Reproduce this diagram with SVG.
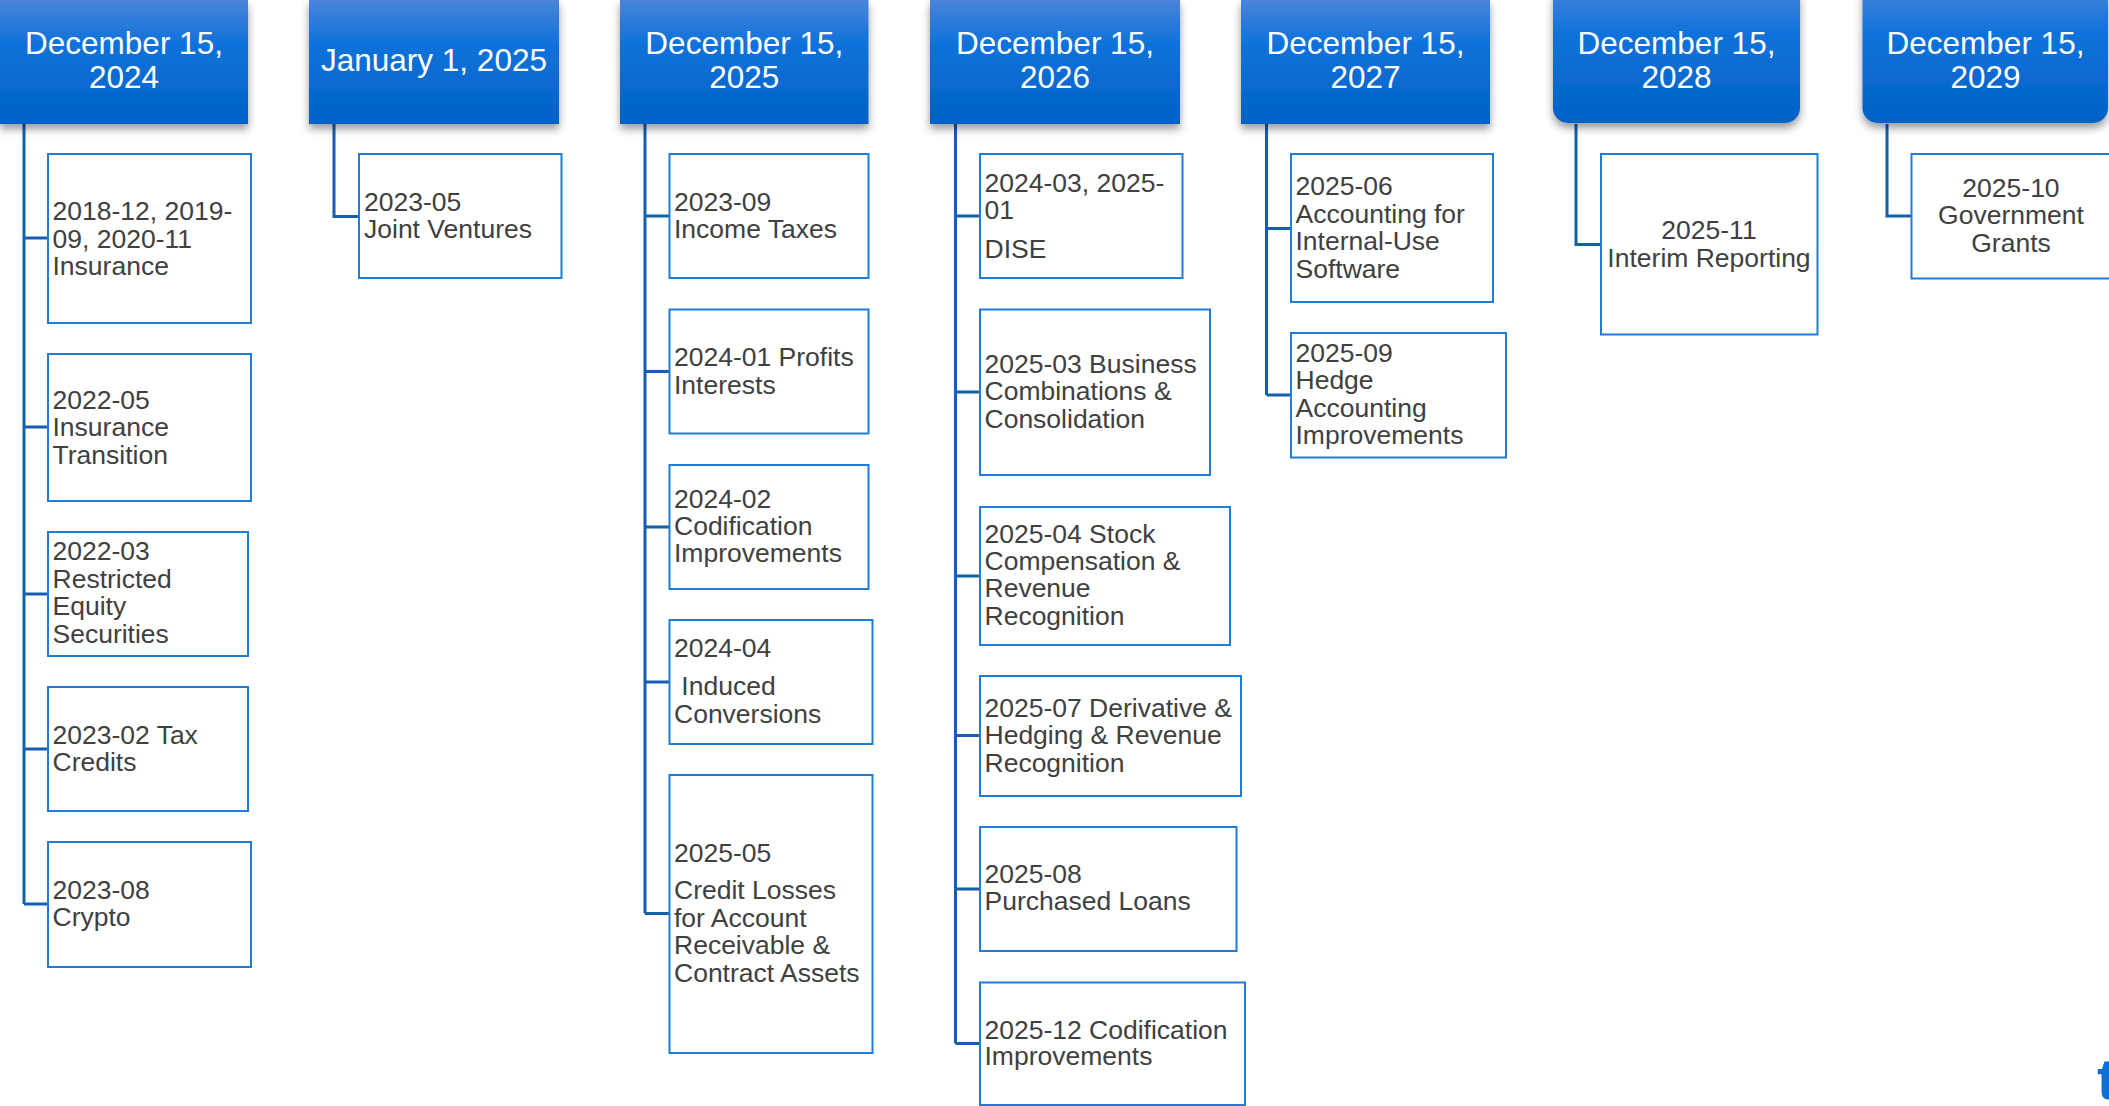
<svg xmlns="http://www.w3.org/2000/svg" width="2109" height="1106" viewBox="0 0 2109 1106">
<defs>
<linearGradient id="hg" x1="0" y1="0" x2="0" y2="1">
<stop offset="0" stop-color="#4a84da"/>
<stop offset="0.35" stop-color="#0f72da"/>
<stop offset="1" stop-color="#0062c6"/>
</linearGradient>
<filter id="sh" x="-10%" y="-10%" width="120%" height="140%">
<feDropShadow dx="0" dy="5" stdDeviation="4" flood-color="#000" flood-opacity="0.4"/>
</filter>
<style>
.hdr{fill:url(#hg);filter:url(#sh)}
.ht{font-family:"Liberation Sans",Arial,sans-serif;font-size:31.5px;fill:#fff;text-anchor:middle}
.box{fill:#fff;stroke:#1f7dd8;stroke-width:2}
.bt{font-family:"Liberation Sans",Arial,sans-serif;font-size:26.5px;fill:#404040}
.c{text-anchor:middle}
.con{fill:none;stroke:#155fae;stroke-width:3}
</style>
</defs>
<rect width="2109" height="1106" fill="#fff"/>

<g id="connectors">
<path class="con" d="M24 124V904M24 238H48M24 427H48M24 594H48M24 749H48M24 904H48"/>
<path class="con" d="M334 124V216.5H359"/>
<path class="con" d="M645 124V913.5M645 216H669.5M645 371.5H669.5M645 527H669.5M645 682H669.5M645 913.5H669.5"/>
<path class="con" d="M955.5 124V1043.5M955.5 216H980M955.5 392H980M955.5 576H980M955.5 735.5H980M955.5 889H980M955.5 1043.5H980"/>
<path class="con" d="M1266.5 124V395M1266.5 228.5H1291M1266.5 395H1291"/>
<path class="con" d="M1576 124V244.5H1601"/>
<path class="con" d="M1887 124V216H1911.5"/>
</g>

<g id="h1"><rect class="hdr" x="0" y="0" width="248" height="124"/><text class="ht" x="124" y="53.5">December 15,</text><text class="ht" x="124" y="87.5">2024</text></g>
<g id="h2"><rect class="hdr" x="309" y="0" width="250" height="124"/><text class="ht" x="434" y="71">January 1, 2025</text></g>
<g id="h3"><rect class="hdr" x="620" y="0" width="248.5" height="124"/><text class="ht" x="744.3" y="53.5">December 15,</text><text class="ht" x="744.3" y="87.5">2025</text></g>
<g id="h4"><rect class="hdr" x="930" y="0" width="250" height="124"/><text class="ht" x="1055" y="53.5">December 15,</text><text class="ht" x="1055" y="87.5">2026</text></g>
<g id="h5"><rect class="hdr" x="1241" y="0" width="249" height="124"/><text class="ht" x="1365.5" y="53.5">December 15,</text><text class="ht" x="1365.5" y="87.5">2027</text></g>
<g id="h6"><rect class="hdr" x="1553" y="-15" width="247" height="138" rx="15"/><text class="ht" x="1676.5" y="53.5">December 15,</text><text class="ht" x="1676.5" y="87.5">2028</text></g>
<g id="h7"><rect class="hdr" x="1862.5" y="-15" width="245.5" height="138" rx="15"/><text class="ht" x="1985.5" y="53.5">December 15,</text><text class="ht" x="1985.5" y="87.5">2029</text></g>

<g id="n1"><rect class="box" x="48" y="154" width="203" height="169"/><text class="bt" x="52.5" y="220">2018-12, 2019-</text><text class="bt" x="52.5" y="247.5">09, 2020-11</text><text class="bt" x="52.5" y="275">Insurance</text></g>
<g id="n2"><rect class="box" x="48" y="354" width="203" height="147"/><text class="bt" x="52.5" y="408.5">2022-05</text><text class="bt" x="52.5" y="436">Insurance</text><text class="bt" x="52.5" y="463.5">Transition</text></g>
<g id="n3"><rect class="box" x="48" y="532" width="200" height="124"/><text class="bt" x="52.5" y="560">2022-03</text><text class="bt" x="52.5" y="587.5">Restricted</text><text class="bt" x="52.5" y="615">Equity</text><text class="bt" x="52.5" y="642.5">Securities</text></g>
<g id="n4"><rect class="box" x="48" y="687" width="200" height="124"/><text class="bt" x="52.5" y="743.5">2023-02 Tax</text><text class="bt" x="52.5" y="771">Credits</text></g>
<g id="n5"><rect class="box" x="48" y="842" width="203" height="125"/><text class="bt" x="52.5" y="898.5">2023-08</text><text class="bt" x="52.5" y="926">Crypto</text></g>

<g id="n6"><rect class="box" x="359" y="154" width="202.5" height="124"/><text class="bt" x="364" y="211">2023-05</text><text class="bt" x="364" y="238">Joint Ventures</text></g>

<g id="n7"><rect class="box" x="669.5" y="154" width="199" height="124"/><text class="bt" x="674" y="211">2023-09</text><text class="bt" x="674" y="237.5">Income Taxes</text></g>
<g id="n8"><rect class="box" x="669.5" y="309.5" width="199" height="124"/><text class="bt" x="674" y="366">2024-01 Profits</text><text class="bt" x="674" y="393.5">Interests</text></g>
<g id="n9"><rect class="box" x="669.5" y="465" width="199" height="124"/><text class="bt" x="674" y="507.5">2024-02</text><text class="bt" x="674" y="535">Codification</text><text class="bt" x="674" y="562">Improvements</text></g>
<g id="n10"><rect class="box" x="669.5" y="620" width="203" height="124"/><text class="bt" x="674" y="657">2024-04</text><text class="bt" x="674" y="695" xml:space="preserve"> Induced</text><text class="bt" x="674" y="722.5">Conversions</text></g>
<g id="n11"><rect class="box" x="669.5" y="775" width="203" height="278"/><text class="bt" x="674" y="862">2025-05</text><text class="bt" x="674" y="899">Credit Losses</text><text class="bt" x="674" y="926.5">for Account</text><text class="bt" x="674" y="954">Receivable &amp;</text><text class="bt" x="674" y="982">Contract Assets</text></g>

<g id="n12"><rect class="box" x="980" y="154" width="202.5" height="124"/><text class="bt" x="984.5" y="191.5">2024-03, 2025-</text><text class="bt" x="984.5" y="218.5">01</text><text class="bt" x="984.5" y="257.5">DISE</text></g>
<g id="n13"><rect class="box" x="980" y="309.5" width="230" height="165.5"/><text class="bt" x="984.5" y="372.5">2025-03 Business</text><text class="bt" x="984.5" y="400">Combinations &amp;</text><text class="bt" x="984.5" y="427.5">Consolidation</text></g>
<g id="n14"><rect class="box" x="980" y="507" width="250" height="138"/><text class="bt" x="984.5" y="542.5">2025-04 Stock</text><text class="bt" x="984.5" y="569.5">Compensation &amp;</text><text class="bt" x="984.5" y="597">Revenue</text><text class="bt" x="984.5" y="624.5">Recognition</text></g>
<g id="n15"><rect class="box" x="980" y="676" width="261" height="120"/><text class="bt" x="984.5" y="716.5">2025-07 Derivative &amp;</text><text class="bt" x="984.5" y="744">Hedging &amp; Revenue</text><text class="bt" x="984.5" y="771.5">Recognition</text></g>
<g id="n16"><rect class="box" x="980" y="827" width="256.5" height="124"/><text class="bt" x="984.5" y="883">2025-08</text><text class="bt" x="984.5" y="910">Purchased Loans</text></g>
<g id="n17"><rect class="box" x="980" y="982.5" width="265" height="122.5"/><text class="bt" x="984.5" y="1038.5">2025-12 Codification</text><text class="bt" x="984.5" y="1065">Improvements</text></g>

<g id="n18"><rect class="box" x="1291" y="154" width="202" height="148"/><text class="bt" x="1295.5" y="195">2025-06</text><text class="bt" x="1295.5" y="222.5">Accounting for</text><text class="bt" x="1295.5" y="250">Internal-Use</text><text class="bt" x="1295.5" y="277.5">Software</text></g>
<g id="n19"><rect class="box" x="1291" y="333" width="215" height="124.5"/><text class="bt" x="1295.5" y="361.5">2025-09</text><text class="bt" x="1295.5" y="389">Hedge</text><text class="bt" x="1295.5" y="416.5">Accounting</text><text class="bt" x="1295.5" y="444">Improvements</text></g>

<g id="n20"><rect class="box" x="1601" y="154" width="216.5" height="180.5"/><text class="bt c" x="1709" y="238.5">2025-11</text><text class="bt c" x="1709" y="266.5">Interim Reporting</text></g>

<g id="n21"><rect class="box" x="1911.5" y="154" width="198.5" height="124.5"/><text class="bt c" x="2011" y="196.5">2025-10</text><text class="bt c" x="2011" y="224">Government</text><text class="bt c" x="2011" y="251.5">Grants</text></g>

<text x="2097" y="1099" font-family="Liberation Sans, Arial, sans-serif" font-weight="bold" font-size="58" fill="#0b6fd6">t</text>
</svg>
